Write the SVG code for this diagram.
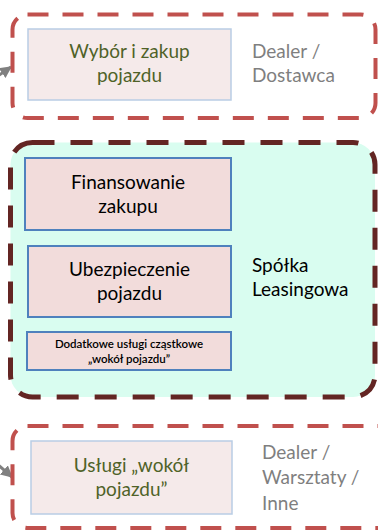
<svg xmlns="http://www.w3.org/2000/svg" width="378" height="532" viewBox="0 0 378 532">
  <style>
    .grp-red { fill: none; stroke: #C0504D; stroke-width: 4; stroke-dasharray: 21 14; }
    .grp-dark { fill: #D9FDF0; stroke: #632523; stroke-width: 5; stroke-dasharray: 22 16; }
    .box-light { fill: #F5EAEA; stroke: #B9CDE5; stroke-width: 1.5; }
    .box-core { fill: #F2DCDB; stroke: #4F81BD; stroke-width: 2; }
    text { font-family: Lato, "Open Sans", "Liberation Sans", sans-serif; }
    .t-green { fill: #4F6228; font-size: 19px; text-anchor: middle; }
    .t-gray { fill: #7F7F7F; font-size: 19px; }
    .t-black { fill: #000000; font-size: 19px; text-anchor: middle; }
    .t-small { fill: #000000; font-size: 11.5px; font-weight: 600; text-anchor: middle; }
    .conn { stroke: #808080; stroke-width: 3; fill: none; }
  </style>
  <defs>
    <marker id="arrow" viewBox="0 0 10 10" refX="9" refY="5" markerWidth="4" markerHeight="4" orient="auto" markerUnits="strokeWidth">
      <path d="M0,0 L10,5 L0,10 z" fill="#808080"/>
    </marker>
  </defs>

  <!-- connectors entering from the left -->
  <g id="connectors">
    <line class="conn" x1="-30" y1="95" x2="11" y2="67" marker-end="url(#arrow)"/>
    <line class="conn" x1="-30" y1="440" x2="12" y2="477" marker-end="url(#arrow)"/>
  </g>

  <!-- dealer / supplier group -->
  <g id="group-dealer">
    <rect class="grp-red" x="12.5" y="14.5" width="363" height="103.5" rx="15"/>
    <g id="node-wybor">
      <rect class="box-light" x="28" y="29" width="203" height="71"/>
      <text class="t-green" x="129.5" y="58">Wybór i zakup</text>
      <text class="t-green" x="129.5" y="82">pojazdu</text>
    </g>
    <text class="t-gray" x="252" y="58">Dealer /</text>
    <text class="t-gray" x="252" y="82">Dostawca</text>
  </g>

  <!-- leasing company group -->
  <g id="group-leasing">
    <rect class="grp-dark" x="10.5" y="142.5" width="364.5" height="254.5" rx="22"/>
    <g id="node-finansowanie">
      <rect class="box-core" x="25" y="158" width="206" height="72"/>
      <text class="t-black" x="128" y="189">Finansowanie</text>
      <text class="t-black" x="128" y="213">zakupu</text>
    </g>
    <g id="node-ubezpieczenie">
      <rect class="box-core" x="28" y="246" width="203" height="71"/>
      <text class="t-black" x="129.5" y="276">Ubezpieczenie</text>
      <text class="t-black" x="129.5" y="300">pojazdu</text>
    </g>
    <g id="node-dodatkowe">
      <rect class="box-core" x="27" y="332" width="204" height="38"/>
      <text class="t-small" x="129" y="348">Dodatkowe usługi cząstkowe</text>
      <text class="t-small" x="129" y="363">„wokół pojazdu”</text>
    </g>
    <text class="t-black" x="252" y="272" style="text-anchor:start">Spółka</text>
    <text class="t-black" x="252" y="296" style="text-anchor:start">Leasingowa</text>
  </g>

  <!-- workshop / other providers group -->
  <g id="group-warsztaty">
    <rect class="grp-red" x="12.5" y="426" width="400" height="102" rx="15"/>
    <g id="node-uslugi">
      <rect class="box-light" x="31" y="441" width="201" height="73"/>
      <text class="t-green" x="131.5" y="472">Usługi „wokół</text>
      <text class="t-green" x="131.5" y="496">pojazdu”</text>
    </g>
    <text class="t-gray" x="262" y="459">Dealer /</text>
    <text class="t-gray" x="262" y="484">Warsztaty /</text>
    <text class="t-gray" x="262" y="510">Inne</text>
  </g>
</svg>
